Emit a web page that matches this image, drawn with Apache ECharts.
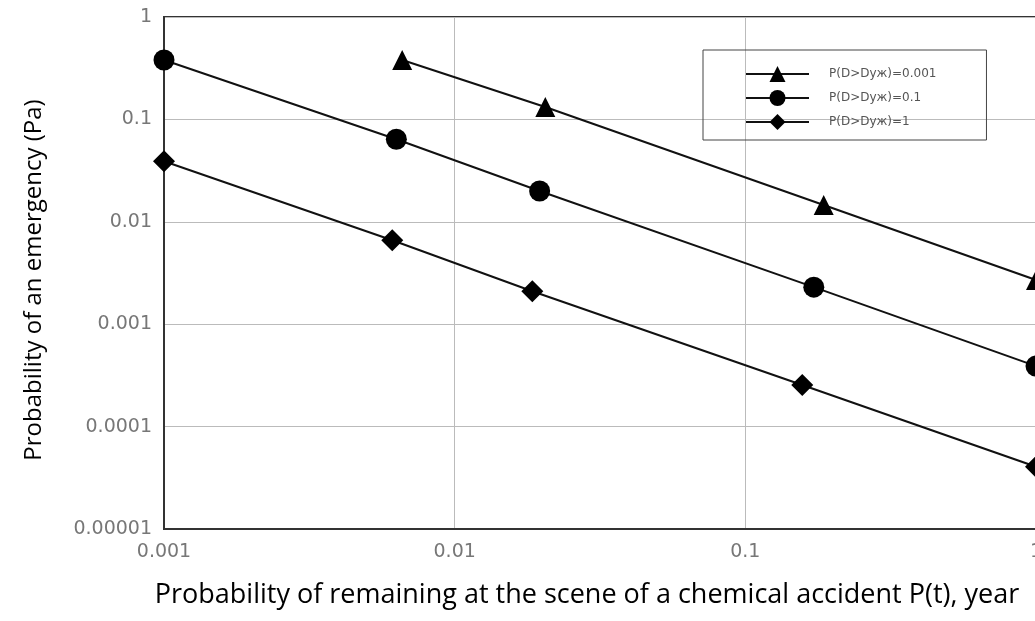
<!DOCTYPE html>
<html>
<head>
<meta charset="utf-8">
<script src="https://cdn.jsdelivr.net/npm/echarts@6/dist/echarts.min.js"></script>
<style>html,body{margin:0;padding:0;background:#fff}#c{width:1035px;height:621px}</style>
</head>
<body>
<div id="c"></div>
<script>
const seriesNames = ['P(D>Dуж)=0.001', 'P(D>Dуж)=0.1', 'P(D>Dуж)=1'];
const triX = [0.0066, 0.0205, 0.186, 1];
const triY = [0.38, 0.132, 0.0146, 0.0027];
const cirX = [0.001, 0.0063, 0.0196, 0.172, 1];
const cirY = [0.38, 0.064, 0.02, 0.0023, 0.00039];
const diaX = [0.001, 0.0061, 0.0185, 0.157, 1];
const diaY = [0.039, 0.0066, 0.0021, 0.000255, 0.0000406];
const xTickLabels = ['0.001', '0.01', '0.1', '1'];
const yTickLabels = ['0.00001', '0.0001', '0.001', '0.01', '0.1', '1'];
const xTitle = 'Probability of remaining at the scene of a chemical accident P(t), year';
const yTitle = 'Probability of an emergency (Pa)';

function pairs(xs, ys) { return xs.map((x, i) => [x, ys[i]]); }
function tickFmt(labels, minExp) {
  return v => { const i = Math.round(Math.log10(v)) - minExp; return labels[i] !== undefined ? labels[i] : ''; };
}
const chart = echarts.init(document.getElementById('c'));
const lineStyle = { color: '#111', width: 2 };
const itemStyle = { color: '#000' };
function mk(name, data, symbol, size) {
  return { name, type: 'line', data, symbol, symbolSize: size, showAllSymbol: true,
    lineStyle, itemStyle, animation: false, z: 3 };
}
chart.setOption({
  animation: false,
  backgroundColor: '#fff',
  grid: { left: 164, top: 17, right: -1, bottom: 92, show: true, borderColor: '#333', borderWidth: 2,
    containLabel: false, outerBoundsMode: 'none' },
  legend: {
    orient: 'vertical', left: 703, top: 50,
    padding: [16, 50, 10, 42], itemGap: 8, itemWidth: 63, itemHeight: 20,
    borderColor: '#444', borderWidth: 1,
    textStyle: { fontFamily: 'DejaVu Sans', fontSize: 12, color: '#555', padding: [0, 0, 0, 15] },
    data: seriesNames
  },
  xAxis: {
    type: 'log', logBase: 10, min: 0.001, max: 1,
    name: xTitle, nameLocation: 'middle', nameGap: 53,
    nameTextStyle: { fontFamily: 'Open Sans', fontSize: 27, color: '#000', padding: [0, 26, 0, 0] },
    axisLine: { lineStyle: { color: '#333', width: 2 } },
    axisTick: { show: false },
    axisLabel: { fontFamily: 'DejaVu Sans', fontSize: 19, color: '#777', margin: 14, formatter: tickFmt(xTickLabels, -3) },
    splitLine: { show: true, lineStyle: { color: '#bbb', width: 1 } },
    minorTick: { show: false }
  },
  yAxis: {
    type: 'log', logBase: 10, min: 0.00001, max: 1,
    name: yTitle, nameLocation: 'middle', nameGap: 118,
    nameTextStyle: { fontFamily: 'Open Sans', fontSize: 24, color: '#000', padding: [0, 14, 0, 0] },
    axisLine: { show: true, lineStyle: { color: '#333', width: 2 } },
    axisTick: { show: false },
    axisLabel: { fontFamily: 'DejaVu Sans', fontSize: 19, color: '#777', margin: 12, formatter: tickFmt(yTickLabels, -5) },
    splitLine: { show: true, lineStyle: { color: '#bbb', width: 1 } }
  },
  series: [
    mk(seriesNames[0], pairs(triX, triY), 'triangle', 20),
    mk(seriesNames[1], pairs(cirX, cirY), 'circle', 21),
    mk(seriesNames[2], pairs(diaX, diaY), 'diamond', 22)
  ]
});
</script>
</body>
</html>
